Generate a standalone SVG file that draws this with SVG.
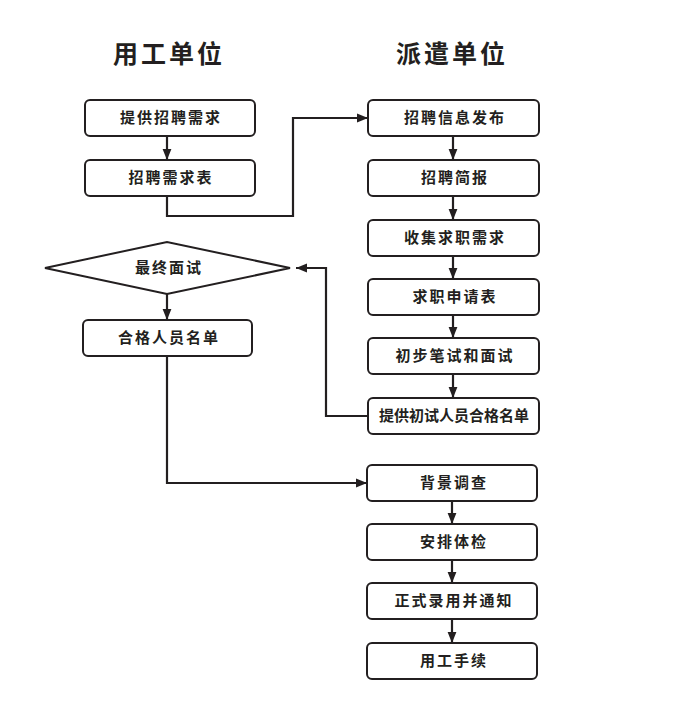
<svg xmlns="http://www.w3.org/2000/svg" width="700" height="705" viewBox="0 0 700 705">
<style>
.box{fill:#fff;stroke:#231f20;stroke-width:2}
.t{font-family:"Noto Sans CJK SC","Noto Sans",sans-serif;font-weight:bold;font-size:15px;fill:#231f20;text-anchor:middle;letter-spacing:2px}
.h{font-family:"Noto Sans CJK SC","Noto Sans",sans-serif;font-weight:bold;font-size:25px;fill:#231f20;text-anchor:middle;letter-spacing:3px}
.c{fill:none;stroke:#231f20;stroke-width:2.2}
</style>
<defs>
<marker id="a" viewBox="0 0 10 10" refX="10" refY="5" markerWidth="5" markerHeight="5" orient="auto" markerUnits="strokeWidth">
<path d="M0,1 L10,5 L0,9 z" fill="#231f20"/>
</marker>
</defs>
<rect width="700" height="705" fill="#fff"/>
<text class="h" x="169" y="63">用工单位</text>
<text class="h" x="452" y="63">派遣单位</text>
<g id="connectors">
<path class="c" d="M167,136 V160" marker-end="url(#a)"/>
<path class="c" d="M167,196 V216 H293 V118 H368" marker-end="url(#a)"/>
<path class="c" d="M453,136 V160" marker-end="url(#a)"/>
<path class="c" d="M453,196 V220" marker-end="url(#a)"/>
<path class="c" d="M453,256 V279" marker-end="url(#a)"/>
<path class="c" d="M453,315 V338" marker-end="url(#a)"/>
<path class="c" d="M453,374 V398" marker-end="url(#a)"/>
<path class="c" d="M368,416 H326 V268 H296" marker-end="url(#a)"/>
<path class="c" d="M167,294 V320" marker-end="url(#a)"/>
<path class="c" d="M167,356 V483 H367" marker-end="url(#a)"/>
<path class="c" d="M452,501 V524" marker-end="url(#a)"/>
<path class="c" d="M452,560 V583" marker-end="url(#a)"/>
<path class="c" d="M452,619 V643" marker-end="url(#a)"/>
</g>
<g id="n1"><rect class="box" x="85" y="100" width="170" height="36" rx="5"/><text class="t" x="171" y="123">提供招聘需求</text></g>
<g id="n2"><rect class="box" x="85" y="160" width="170" height="36" rx="5"/><text class="t" x="171" y="183">招聘需求表</text></g>
<g id="n3"><polygon class="box" points="45,268 167,242 290,268 167,294"/><text class="t" x="169" y="273">最终面试</text></g>
<g id="n4"><rect class="box" x="83" y="320" width="169" height="36" rx="5"/><text class="t" x="169" y="343">合格人员名单</text></g>
<g id="r1"><rect class="box" x="368" y="100" width="171" height="36" rx="5"/><text class="t" x="455" y="123">招聘信息发布</text></g>
<g id="r2"><rect class="box" x="368" y="160" width="171" height="36" rx="5"/><text class="t" x="455" y="183">招聘简报</text></g>
<g id="r3"><rect class="box" x="368" y="220" width="171" height="36" rx="5"/><text class="t" x="455" y="243">收集求职需求</text></g>
<g id="r4"><rect class="box" x="368" y="279" width="171" height="36" rx="5"/><text class="t" x="455" y="302">求职申请表</text></g>
<g id="r5"><rect class="box" x="368" y="338" width="171" height="36" rx="5"/><text class="t" x="455" y="361">初步笔试和面试</text></g>
<g id="r6"><rect class="box" x="368" y="398" width="171" height="36" rx="5"/><text class="t" x="454" y="421" style="letter-spacing:0">提供初试人员合格名单</text></g>
<g id="r7"><rect class="box" x="367" y="465" width="170" height="36" rx="5"/><text class="t" x="454" y="488">背景调查</text></g>
<g id="r8"><rect class="box" x="367" y="524" width="170" height="36" rx="5"/><text class="t" x="454" y="547">安排体检</text></g>
<g id="r9"><rect class="box" x="367" y="583" width="170" height="36" rx="5"/><text class="t" x="454" y="606">正式录用并通知</text></g>
<g id="r10"><rect class="box" x="367" y="643" width="170" height="36" rx="5"/><text class="t" x="454" y="666">用工手续</text></g>
</svg>
